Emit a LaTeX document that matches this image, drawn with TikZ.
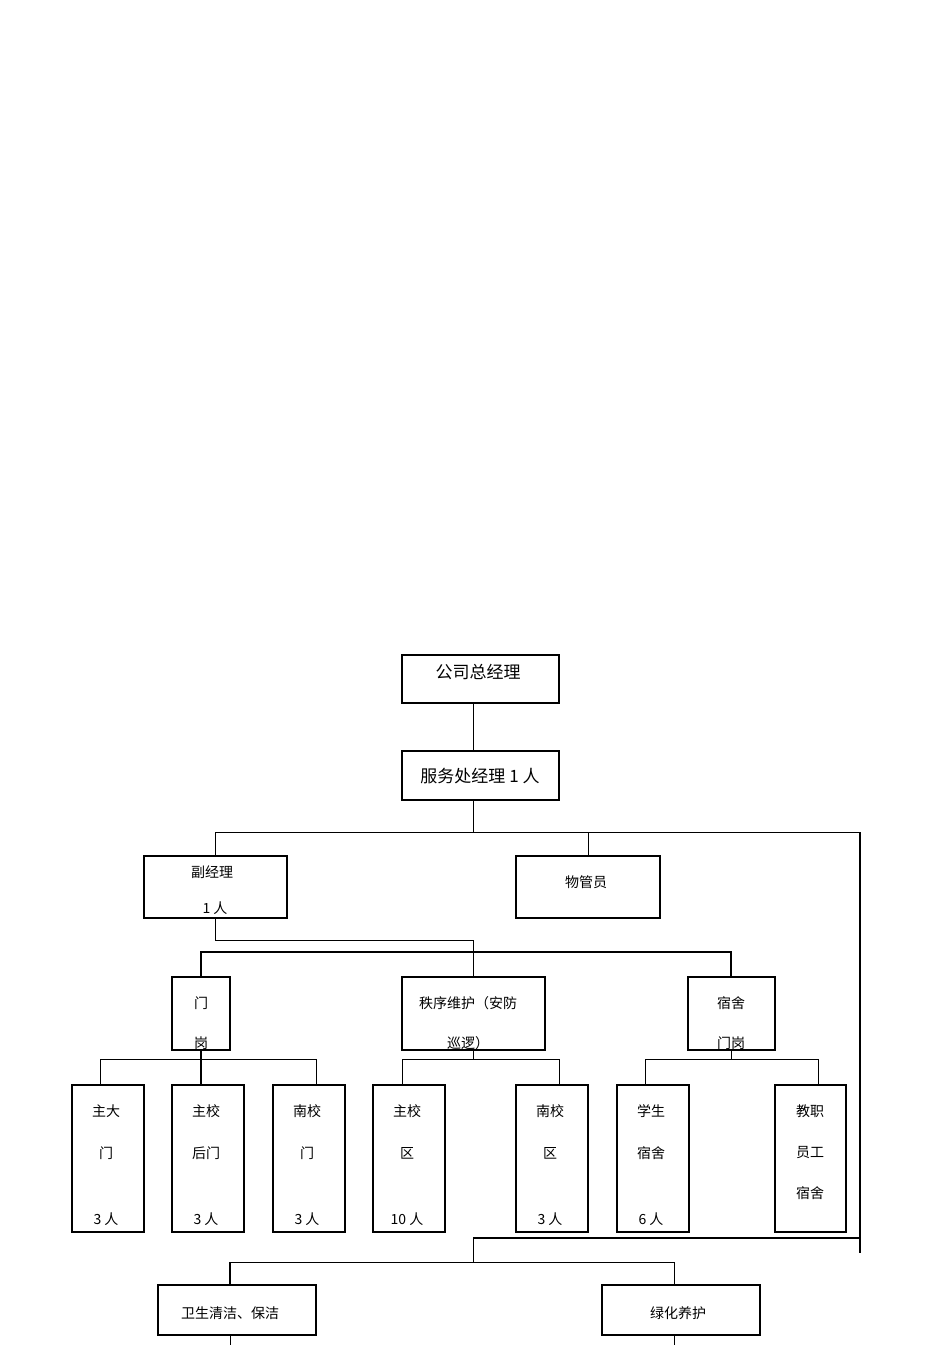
\documentclass[tikz,border=0pt]{standalone}
\usepackage{fontspec}
\setmainfont{Noto Sans CJK SC}
\begin{document}
\begin{tikzpicture}[x=1pt,y=-1pt,
  bx/.style={draw,line width=1.3pt},
  ln/.style={line width=0.7pt},
  tk/.style={line width=1.6pt},
  t/.style={font=\fontsize{14}{14}\selectfont,inner sep=0pt},
  tb/.style={font=\fontsize{17}{17}\selectfont,inner sep=0pt}]
\useasboundingbox (0,0) rectangle (950,1345);
% boxes
\draw[bx] (402,655) rectangle (559,703); \node[tb] (a) at (478,672) {公司总经理};
\draw[bx] (402,751) rectangle (559,800); \node[tb] (b) at (480,776) {服务处经理 1 人};
\draw[bx] (144,856) rectangle (287,918); \node[t] at (212,872) {副经理}; \node[t] at (215,908) {1 人};
\draw[bx] (516,856) rectangle (660,918); \node[t] at (586,882) {物管员};
\draw[bx] (172,977) rectangle (230,1050); \node[t] at (201,1003) {门}; \node[t] at (201,1043) {岗};
\draw[bx] (402,977) rectangle (545,1050); \node[t] at (468,1003) {秩序维护（安防}; \node[t] at (468,1043) {巡逻）};
\draw[bx] (688,977) rectangle (775,1050); \node[t] at (731,1003) {宿舍}; \node[t] at (731,1043) {门岗};
% leaves
\foreach \x/\a/\b/\c in {72/主大/门/3 人,172/主校/后门/3 人,273/南校/门/3 人,373/主校/区/10 人,516/南校/区/3 人,617/学生/宿舍/6 人}{
  \draw[bx] (\x,1085) rectangle (\x+72,1232);
  \node[t] at (\x+34,1111) {\a}; \node[t] at (\x+34,1153) {\b}; \node[t] at (\x+34,1219) {\c};}
\draw[bx] (775,1085) rectangle (846,1232);
\node[t] at (810,1111) {教职}; \node[t] at (810,1153) {员工}; \node[t] at (810,1193) {宿舍};
\draw[bx] (158,1285) rectangle (316,1335); \node[t] at (230,1313) {卫生清洁、保洁};
\draw[bx] (602,1285) rectangle (760,1335); \node[t] at (678,1313) {绿化养护};
% connectors
\draw[ln] (473,703) -- (473,751);
\draw[ln] (473,800) -- (473,832);
\draw[ln] (215,856) -- (215,832) -- (860,832);
\draw[ln] (588,832) -- (588,856);
\draw[tk] (860,832) -- (860,1253);
\draw[ln] (215,918) -- (215,940) -- (473,940) -- (473,977);
\draw[tk] (201,977) -- (201,952) -- (731,952) -- (731,977);
\draw[ln] (100,1085) -- (100,1059) -- (316,1059) -- (316,1085);
\draw[tk] (201,1050) -- (201,1085);
\draw[ln] (473,1050) -- (473,1059);
\draw[ln] (402,1085) -- (402,1059) -- (559,1059) -- (559,1085);
\draw[ln] (731,1050) -- (731,1059);
\draw[ln] (645,1085) -- (645,1059) -- (818,1059) -- (818,1085);
\draw[tk] (473,1238) -- (860,1238);
\draw[ln] (473,1238) -- (473,1262);
\draw[ln] (230,1285) -- (230,1262) -- (674,1262) -- (674,1285);
\draw[tk] (230,1262) -- (230,1285);
\draw[ln] (230,1335) -- (230,1345);
\draw[ln] (674,1335) -- (674,1345);
\end{tikzpicture}
\end{document}
